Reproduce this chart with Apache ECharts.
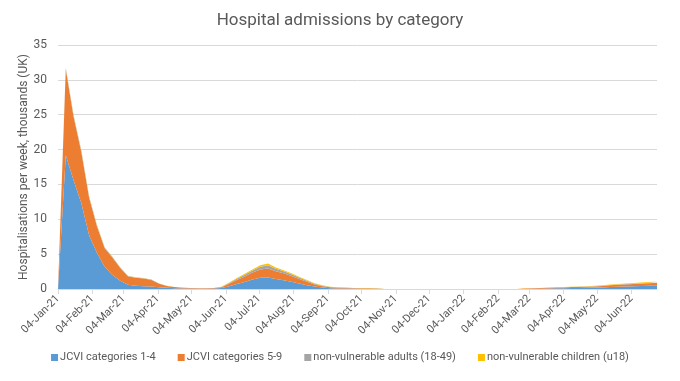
<!DOCTYPE html>
<html>
<head>
<meta charset="utf-8">
<script src="https://cdn.jsdelivr.net/npm/echarts@6/dist/echarts.min.js"></script>
<style>html,body{margin:0;padding:0;background:#fff}#c{width:680px;height:381px}</style>
</head>
<body>
<div id="c"></div>
<script>
// Weekly data, first week starting 04-Jan-21 (78 weeks)
const startDate = [2021, 0, 4];
const seriesNames = ['JCVI categories 1-4', 'JCVI categories 5-9', 'non-vulnerable adults (18-49)', 'non-vulnerable children (u18)'];
const seriesColors = ['#5B9BD5', '#ED7D31', '#A5A5A5', '#FFC000'];

const jcvi14 = [
  0, 19.2, 15.6, 12.3, 7.7, 5.2, 3.2, 2.0, 1.2, 0.6,
  0.45, 0.4, 0.35, 0.25, 0.18, 0.12, 0.08, 0.06, 0.05, 0.05,
  0.06, 0.15, 0.4, 0.7, 1.0, 1.35, 1.6, 1.65, 1.45, 1.25,
  1.05, 0.8, 0.55, 0.35, 0.2, 0.12, 0.08, 0.06, 0.05, 0.03,
  0.03, 0.02, 0, 0, 0, 0, 0, 0, 0, 0,
  0, 0, 0, 0, 0, 0, 0, 0, 0, 0,
  0, 0.02, 0.05, 0.08, 0.1, 0.12, 0.15, 0.15, 0.17, 0.2,
  0.22, 0.27, 0.32, 0.35, 0.38, 0.42, 0.45, 0.48
];
const jcvi59 = [
  0, 12.3, 9.1, 7.3, 5.4, 3.8, 2.65, 2.5, 1.8, 1.2,
  1.15, 1.1, 0.95, 0.5, 0.24, 0.15, 0.1, 0.08, 0.06, 0.06,
  0.08, 0.1, 0.35, 0.6, 0.8, 1.0, 1.2, 1.3, 1.1, 1.0,
  0.8, 0.65, 0.5, 0.3, 0.2, 0.13, 0.1, 0.08, 0.07, 0.06,
  0.06, 0.04, 0, 0, 0, 0, 0, 0, 0, 0,
  0, 0, 0, 0, 0, 0, 0, 0, 0, 0,
  0.08, 0.08, 0.08, 0.08, 0.1, 0.1, 0.12, 0.13, 0.15, 0.17,
  0.2, 0.25, 0.28, 0.3, 0.32, 0.35, 0.38, 0.42
];
const adults = [
  0, 0.2, 0.2, 0.2, 0.15, 0.15, 0.1, 0.1, 0.08, 0.07,
  0.06, 0.05, 0.05, 0.03, 0.02, 0.02, 0.01, 0.01, 0.01, 0.01,
  0.01, 0.04, 0.12, 0.18, 0.25, 0.3, 0.4, 0.45, 0.35, 0.28,
  0.25, 0.2, 0.15, 0.1, 0.07, 0.05, 0.04, 0.03, 0.02, 0.01,
  0.01, 0.01, 0, 0, 0, 0, 0, 0, 0, 0,
  0, 0, 0, 0, 0, 0, 0, 0, 0, 0,
  0, 0.01, 0.01, 0.02, 0.02, 0.02, 0.02, 0.03, 0.03, 0.04,
  0.04, 0.05, 0.05, 0.05, 0.05, 0.06, 0.06, 0.06
];
const children = [
  0, 0.05, 0.05, 0.05, 0.05, 0.05, 0.05, 0.03, 0.03, 0.03,
  0.03, 0.03, 0.03, 0.02, 0.01, 0.01, 0.01, 0, 0, 0,
  0.01, 0.02, 0.05, 0.08, 0.12, 0.15, 0.2, 0.25, 0.2, 0.15,
  0.15, 0.12, 0.1, 0.07, 0.05, 0.04, 0.03, 0.03, 0.02, 0.03,
  0.03, 0.02, 0, 0, 0, 0, 0, 0, 0, 0,
  0, 0, 0, 0, 0, 0, 0, 0, 0, 0,
  0.01, 0.01, 0.02, 0.02, 0.03, 0.03, 0.04, 0.05, 0.05, 0.06,
  0.07, 0.08, 0.08, 0.1, 0.1, 0.1, 0.1, 0.1
];

const tickLabels = ['04-Jan-21','04-Feb-21','04-Mar-21','04-Apr-21','04-May-21','04-Jun-21','04-Jul-21','04-Aug-21','04-Sep-21','04-Oct-21','04-Nov-21','04-Dec-21','04-Jan-22','04-Feb-22','04-Mar-22','04-Apr-22','04-May-22','04-Jun-22'];

// Daily date axis (category per day) so that ticks fall on the 4th of each month
const DAY = 86400000;
const MON = ['Jan','Feb','Mar','Apr','May','Jun','Jul','Aug','Sep','Oct','Nov','Dec'];
const t0 = Date.UTC(startDate[0], startDate[1], startDate[2]);
const nDays = (jcvi14.length - 1) * 7 + 1;
const dayLabels = [];
for (let d = 0; d < nDays; d++) {
  const dt = new Date(t0 + d * DAY);
  const dd = String(dt.getUTCDate()).padStart(2, '0');
  dayLabels.push(dd + '-' + MON[dt.getUTCMonth()] + '-' + String(dt.getUTCFullYear()).slice(2));
}
const tickSet = new Set(tickLabels);
const isTick = (idx) => tickSet.has(dayLabels[idx]);

const allSeries = [jcvi14, jcvi59, adults, children];

const chart = echarts.init(document.getElementById('c'), null, {renderer: 'canvas'});
const font = 'Roboto, "Liberation Sans", sans-serif';
chart.setOption({
  animation: false,
  backgroundColor: '#fff',
  title: {
    text: 'Hospital admissions by category',
    left: 'center', top: 7,
    textStyle: {fontFamily: font, fontSize: 17, fontWeight: 'normal', color: '#595959'}
  },
  legend: {
    bottom: 13, left: 'center',
    icon: 'rect', itemWidth: 7, itemHeight: 7, itemGap: 22,
    textStyle: {fontFamily: font, fontSize: 11, color: '#595959', padding: [0, 0, 0, -3]},
    data: seriesNames
  },
  grid: {left: 58, right: 23, top: 45, bottom: 92},
  xAxis: {
    type: 'category', data: dayLabels, boundaryGap: false,
    axisLine: {lineStyle: {color: '#d9d9d9'}},
    axisTick: {show: true, length: 5, lineStyle: {color: '#d9d9d9'}, interval: (i) => isTick(i)},
    splitLine: {show: false},
    axisLabel: {
      interval: (i) => isTick(i), rotate: 45, margin: 8,
      fontFamily: font, fontSize: 11, color: '#595959'
    }
  },
  yAxis: {
    type: 'value', min: 0, max: 35, interval: 5,
    name: 'Hospitalisations per week, thousands (UK)',
    nameLocation: 'middle', nameGap: 28, nameMoveOverlap: false,
    nameTextStyle: {fontFamily: font, fontSize: 12, color: '#595959'},
    axisLine: {show: false}, axisTick: {show: false},
    axisLabel: {fontFamily: font, fontSize: 12, color: '#595959', margin: 11},
    splitLine: {lineStyle: {color: '#d9d9d9'}}
  },
  series: allSeries.map((vals, k) => ({
    name: seriesNames[k], type: 'line', stack: 'total',
    symbol: 'none', smooth: false,
    itemStyle: {color: seriesColors[k]},
    lineStyle: {width: 0, color: seriesColors[k]},
    areaStyle: {color: seriesColors[k], opacity: 1},
    data: vals.map((v, i) => [i * 7, v])
  }))
});
</script>
</body>
</html>
